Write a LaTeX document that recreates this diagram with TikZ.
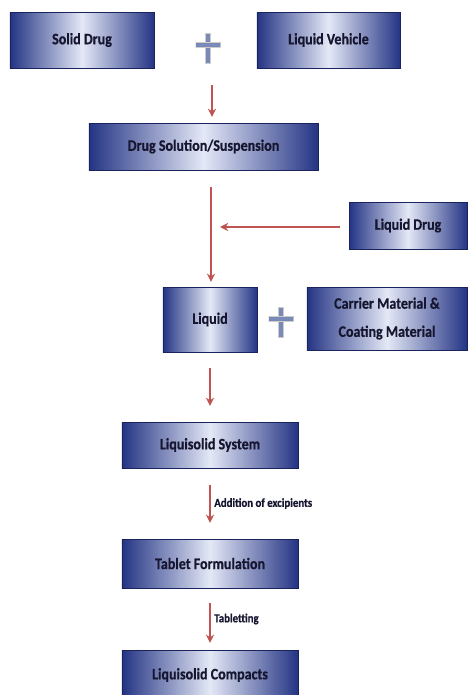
\documentclass[tikz,border=0pt]{standalone}
\usepackage{fontspec}
\setmainfont{Carlito}[FakeStretch=0.88, BoldFeatures={FakeBold=0.6}]
\usetikzlibrary{arrows.meta,shadows}
\definecolor{boxblue}{RGB}{36,52,132}
\definecolor{boxlight}{RGB}{228,232,246}
\definecolor{flowred}{RGB}{192,84,82}
\definecolor{boxtext}{RGB}{22,22,48}
\definecolor{plusblue}{RGB}{122,138,184}
\begin{document}
\begin{tikzpicture}[x=0.03cm,y=-0.03cm,
    box/.style={rectangle, left color=boxblue, right color=boxblue, middle color=boxlight,
        draw=boxblue!70!black, line width=0.3pt, text=boxtext,
        font=\fontsize{13.6}{15}\selectfont\bfseries, inner sep=2pt,
        drop shadow={opacity=0.35, shadow xshift=0.8pt, shadow yshift=-1.2pt}},
    plussign/.style={minimum width=0.75cm, minimum height=0.9cm, inner sep=0pt,
        path picture={
            \fill[plusblue, draw=gray!40, line width=0.5pt]
                ([xshift=-0.07cm]path picture bounding box.north) rectangle ([xshift=0.07cm]path picture bounding box.south);
            \fill[plusblue, draw=gray!40, line width=0.5pt]
                ([yshift=0.03cm]path picture bounding box.west) rectangle ([yshift=0.17cm]path picture bounding box.east);
        }},
    flow/.style={draw=flowred, line width=1.3pt, -{Stealth[length=7pt,width=7pt]}},
    steplabel/.style={right, text=boxtext, font=\fontsize{10.5}{12}\selectfont\bfseries, inner sep=3pt}]
    \useasboundingbox (0,0) rectangle (468,695);

    \node[box, minimum width=4.32cm, minimum height=1.68cm] (solid) at (82,40) {Solid Drug};
    \node[plussign] (plusA) at (208,48) {};
    \node[box, minimum width=4.29cm, minimum height=1.68cm] (vehicle) at (328.5,40) {Liquid Vehicle};

    \node[box, minimum width=6.87cm, minimum height=1.41cm] (solution) at (203.5,146.5) {Drug Solution/Suspension};
    \node[box, minimum width=3.54cm, minimum height=1.41cm] (ldrug) at (408,225.5) {Liquid Drug};
    \coordinate (join) at (211,227);

    \node[box, minimum width=2.82cm, minimum height=1.95cm] (liquid) at (210,319.5) {Liquid};
    \node[plussign] (plusB) at (281,322) {};
    \node[box, minimum width=4.8cm, minimum height=1.89cm, align=center,
        font=\fontsize{13.6}{24}\selectfont\bfseries] (carrier) at (387,318.5) {Carrier Material \&\\Coating Material};

    \node[box, minimum width=5.28cm, minimum height=1.38cm] (system) at (210,445) {Liquisolid System};
    \node[box, minimum width=5.28cm, minimum height=1.47cm] (tablet) at (210,563.5) {Tablet Formulation};
    \node[box, minimum width=5.28cm, minimum height=1.5cm] (compacts) at (210,675) {Liquisolid Compacts};

    \draw[flow, shorten <=0.66cm, shorten >=0.18cm] (plusA.south -| 212,0) -- (212,0 |- solution.north);
    \draw[flow, shorten <=0.5cm, shorten >=0.15cm] (211,0 |- solution.south) -- (211,0 |- liquid.north);
    \draw[flow, shorten <=0.27cm, shorten >=0.27cm] (ldrug.west |- join) -- (join);
    \draw[flow, shorten <=0.48cm, shorten >=0.48cm] (liquid.south) -- (system.north);
    \draw[flow, shorten <=0.5cm, shorten >=0.48cm] (system.south) -- node[steplabel] {Addition of excipients} (tablet.north);
    \draw[flow, shorten <=0.45cm, shorten >=0.21cm] (tablet.south) -- node[steplabel] {Tabletting} (compacts.north);
\end{tikzpicture}
\end{document}
